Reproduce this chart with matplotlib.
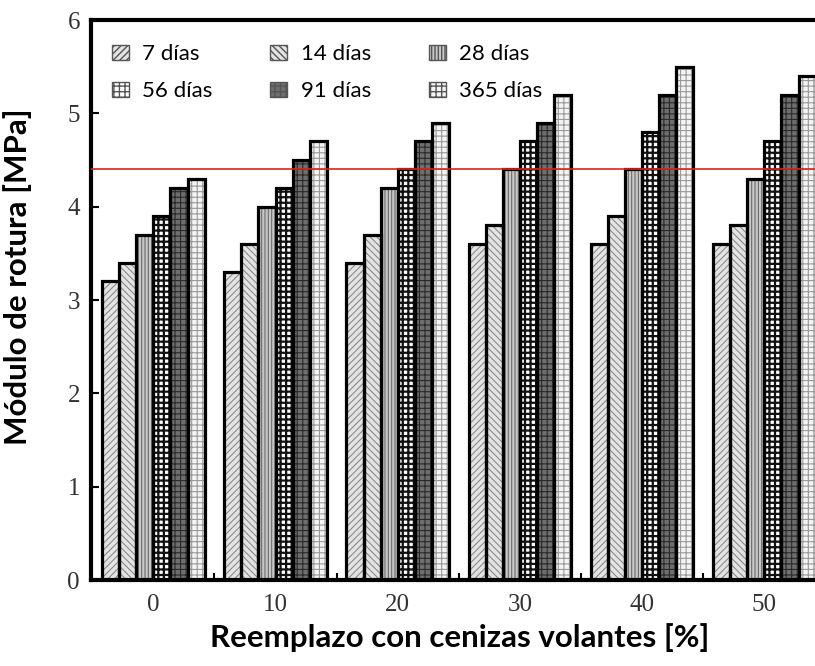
import numpy as np
import matplotlib
matplotlib.use("Agg")
import matplotlib.pyplot as plt
from matplotlib.patches import Patch

# flexural strength by fly-ash replacement and curing age
reemplazo = ["0", "10", "20", "30", "40", "50"]
edades = ["7 días", "14 días", "28 días", "56 días", "91 días", "365 días"]

d7 = [3.2, 3.3, 3.4, 3.6, 3.6, 3.6]
d14 = [3.4, 3.6, 3.7, 3.8, 3.9, 3.8]
d28 = [3.7, 4.0, 4.2, 4.4, 4.4, 4.3]
d56 = [3.9, 4.2, 4.4, 4.7, 4.8, 4.7]
d91 = [4.2, 4.5, 4.7, 4.9, 5.2, 5.2]
d365 = [4.3, 4.7, 4.9, 5.2, 5.5, 5.4]
series = [d7, d14, d28, d56, d91, d365]

limite = 4.4

# fill, hatch, hatch colour for each age
estilos = [
    ("#e4e4e4", "/////", "#8a8a8a"),
    ("#e4e4e4", "\\\\\\\\\\", "#8a8a8a"),
    ("#c8c8c8", "|||||", "#6a6a6a"),
    ("#ffffff", "+++", "#111111"),
    ("#6e6e6e", "+++", "#2a2a2a"),
    ("#f4f4f4", "+++", "#9a9a9a"),
]

fig = plt.figure(figsize=(8.15, 6.66), dpi=100)
ax = fig.add_axes([0.1117, 0.1291, 0.9161, 0.8408])

x = np.arange(len(reemplazo))
w = 0.14
for i, vals in enumerate(series):
    pos = x + (i - 2.5) * w
    fc, h, hc = estilos[i]
    bars = ax.bar(pos, vals, w, color=fc, hatch=h, edgecolor=hc, linewidth=0, zorder=2)
    for b in bars:
        if hasattr(b, "set_hatch_linewidth"):
            b.set_hatch_linewidth(1.6 if i == 3 else 0.8)
    ax.bar(pos, vals, w, fill=False, edgecolor="black", linewidth=2.3, zorder=3)

ax.axhline(limite, color="#e02020", linewidth=1.2, zorder=4)

ax.set_xlim(-0.51, 5.6)
ax.set_ylim(0, 6)
ax.set_xticks(x)
ax.set_xticklabels(reemplazo)
ax.set_xticks(x[:-1] + 0.5, minor=True)
ax.set_yticks(range(7))
ax.tick_params(axis="x", which="major", length=0, pad=10)
ax.tick_params(axis="x", which="minor", direction="in", length=5, width=1.5)
ax.tick_params(axis="y", direction="in", length=6, width=1.5, pad=8)
for lab in ax.get_xticklabels() + ax.get_yticklabels():
    lab.set_fontfamily("Liberation Serif")
    lab.set_fontsize(18)
    lab.set_color("#333333")
for s in ax.spines.values():
    s.set_linewidth(3)

fig.text(0.564, 0.042, "Reemplazo con cenizas volantes [%]", ha="center", va="center",
         fontsize=22.5, fontweight="bold", family="Lato")
fig.text(0.022, 0.585, "Módulo de rotura [MPa]", ha="center", va="center", rotation=90,
         fontsize=22.5, fontweight="bold", family="Lato")

handles = []
for (fc, h, hc), lab in zip(estilos, edades):
    handles.append(Patch(facecolor=fc, hatch=h, edgecolor="#555555", linewidth=1, label=lab))
# legend fills column-wise, so reorder to read row by row
orden = [0, 3, 1, 4, 2, 5]
leg = ax.legend([handles[k] for k in orden], [edades[k] for k in orden], ncol=3,
                loc="upper left", bbox_to_anchor=(0.115, 0.96), bbox_transform=fig.transFigure,
                prop={"family": "Lato", "size": 16}, frameon=True, facecolor="white",
                edgecolor="none", framealpha=1, fancybox=False, borderpad=0.3,
                handlelength=0.77, handleheight=0.68, handletextpad=0.6,
                columnspacing=2.6, labelspacing=0.75)
leg.set_zorder(5)

fig.savefig("out.png", dpi=100)
